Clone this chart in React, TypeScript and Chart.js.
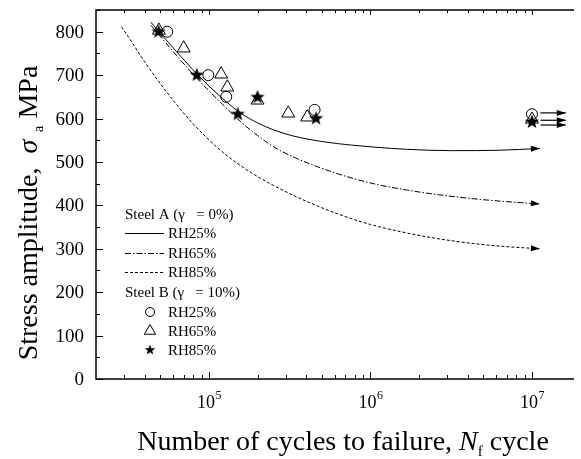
import React, { useEffect, useRef } from 'react';
import { Chart, registerables } from 'chart.js';
Chart.register(...registerables);

// Steel A fitted curves (cycles, MPa)
const rh25CurveX = [43700, 50100, 63100, 79400, 100000, 126000, 158000, 200000, 251000, 331000, 525000, 1070000, 1700000, 3160000, 6310000, 11200000];
const rh25CurveY = [822, 796, 754, 713, 675, 641, 612, 590, 574, 560, 546, 534, 529, 526, 527, 531];
const rh65CurveX = [43700, 50100, 63100, 79400, 100000, 126000, 158000, 200000, 251000, 331000, 447000, 676000, 1070000, 1700000, 2690000, 5010000, 11200000];
const rh65CurveY = [815, 789, 745, 703, 664, 627, 592, 561, 535, 512, 492, 469, 449, 435, 424, 413, 403];
const rh85CurveX = [28800, 32400, 39800, 50100, 63100, 79400, 100000, 126000, 178000, 263000, 398000, 676000, 1000000, 1700000, 2750000, 4370000, 6310000, 11200000];
const rh85CurveY = [811, 783, 732, 680, 632, 589, 551, 518, 478, 442, 410, 376, 356, 336, 322, 312, 306, 300];

// Steel B test points
const bRh25X = [55200, 99100, 128000, 451000, 10000000];
const bRh25Y = [800, 700, 650, 620, 610];
const bRh65X = [49000, 69800, 119000, 130000, 200000, 310000, 406000, 10000000];
const bRh65Y = [803, 762, 702, 672, 642, 612, 603, 598];
const bRh85X = [48800, 84100, 151000, 200000, 461000, 10000000];
const bRh85Y = [800, 700, 610, 649, 600, 592];

// run-out arrows
const runoutX = [11300000, 16200000];
const runoutY = [613, 596, 585];

const yTicks = [0, 100, 200, 300, 400, 500, 600, 700, 800];
const xMajorExp = [5, 6, 7];

const FONT = '"Liberation Serif", "Times New Roman", serif';

const pts = (xs: number[], ys: number[]) => xs.map((x, i) => ({ x, y: ys[i] }));

function makeStar(size: number, outer: number, inner: number) {
  const c = document.createElement('canvas');
  c.width = size; c.height = size;
  const g = c.getContext('2d')!;
  g.fillStyle = '#000';
  g.beginPath();
  for (let i = 0; i < 10; i++) {
    const r = i % 2 === 0 ? outer : inner;
    const a = -Math.PI / 2 + (i * Math.PI) / 5;
    const px = size / 2 + r * Math.cos(a);
    const py = size / 2 + r * Math.sin(a);
    if (i === 0) g.moveTo(px, py); else g.lineTo(px, py);
  }
  g.closePath();
  g.fill();
  return c;
}

type Part = { t: string; f: string; dy?: number };
function drawParts(ctx: CanvasRenderingContext2D, parts: Part[], cx: number, y: number) {
  let total = 0;
  parts.forEach(p => { ctx.font = p.f; total += ctx.measureText(p.t).width; });
  let x = cx - total / 2;
  ctx.textAlign = 'left';
  ctx.textBaseline = 'alphabetic';
  parts.forEach(p => {
    ctx.font = p.f;
    ctx.fillText(p.t, x, y + (p.dy || 0));
    x += ctx.measureText(p.t).width;
  });
}

function arrowHead(ctx: CanvasRenderingContext2D, x1: number, y1: number, x2: number, y2: number) {
  const a = Math.atan2(y2 - y1, x2 - x1);
  const L = 9, W = 3;
  ctx.save();
  ctx.fillStyle = '#000';
  ctx.beginPath();
  ctx.moveTo(x2, y2);
  ctx.lineTo(x2 - L * Math.cos(a) + W * Math.sin(a), y2 - L * Math.sin(a) - W * Math.cos(a));
  ctx.lineTo(x2 - L * Math.cos(a) - W * Math.sin(a), y2 - L * Math.sin(a) + W * Math.cos(a));
  ctx.closePath();
  ctx.fill();
  ctx.restore();
}

export default function App() {
  const ref = useRef<HTMLCanvasElement>(null);
  useEffect(() => {
    const canvas = ref.current!;
    const star = makeStar(16, 7.5, 3.1);
    const star2 = makeStar(12, 5.5, 2.3);

    const lineDS = (label: string, xs: number[], ys: number[], dash: number[]) => ({
      label, data: pts(xs, ys), borderColor: '#000', borderWidth: 1, borderDash: dash,
      pointRadius: 0, cubicInterpolationMode: 'monotone' as const, showLine: true, fill: false, order: 3,
      arrow: true,
    });

    const datasets: any[] = [
      { label: 'B RH85%', data: pts(bRh85X, bRh85Y), showLine: false, pointStyle: star, pointRadius: 8, order: 0 },
      { label: 'B RH25%', data: pts(bRh25X, bRh25Y), showLine: false, pointStyle: 'circle', pointRadius: 5.5, borderColor: '#000', backgroundColor: 'rgba(255,255,255,0)', pointBorderWidth: 1, order: 1 },
      { label: 'B RH65%', data: pts(bRh65X, bRh65Y), showLine: false, pointStyle: 'triangle', pointRadius: 7.5, borderColor: '#000', backgroundColor: 'rgba(255,255,255,0)', pointBorderWidth: 1, order: 2 },
      lineDS('A RH25%', rh25CurveX, rh25CurveY, []),
      lineDS('A RH65%', rh65CurveX, rh65CurveY, [6, 2, 1.5, 2]),
      lineDS('A RH85%', rh85CurveX, rh85CurveY, [3, 2]),
      ...runoutY.map(v => ({ label: 'runout', data: pts(runoutX, [v, v]), borderColor: '#000', borderWidth: 1.2, pointRadius: 0, showLine: true, order: 3, arrow: true })),
    ];

    const deco = {
      id: 'deco',
      afterDatasetsDraw(chart: any) {
        const ctx = chart.ctx as CanvasRenderingContext2D;
        chart.data.datasets.forEach((ds: any, i: number) => {
          if (!ds.arrow) return;
          const meta = chart.getDatasetMeta(i);
          const n = meta.data.length;
          const p1 = meta.data[n - 2], p2 = meta.data[n - 1];
          arrowHead(ctx, p1.x, p1.y, p2.x, p2.y);
        });
      },
      afterDraw(chart: any) {
        const ctx = chart.ctx as CanvasRenderingContext2D;
        const a = chart.chartArea;
        const xs = chart.scales.x, ys = chart.scales.y;
        ctx.save();
        ctx.strokeStyle = '#000';
        // frame
        ctx.lineWidth = 1.5;
        ctx.beginPath();
        ctx.moveTo(a.right + 2, a.top); ctx.lineTo(a.left, a.top); ctx.lineTo(a.left, a.bottom); ctx.lineTo(a.right + 2, a.bottom);
        ctx.stroke();
        // y ticks
        ctx.lineWidth = 1;
        ctx.beginPath();
        for (let v = 0; v <= 850; v += 50) {
          const py = Math.round(ys.getPixelForValue(v)) + 0.5;
          const len = v % 100 === 0 ? 7 : 4;
          ctx.moveTo(a.left, py); ctx.lineTo(a.left + len, py);
        }
        // x ticks
        for (let e = 4; e <= 7; e++) {
          for (let m = 1; m <= 9; m++) {
            const val = m * Math.pow(10, e);
            if (val <= xs.min || val > xs.max) continue;
            const px = Math.round(xs.getPixelForValue(val)) + 0.5;
            const len = m === 1 ? 7 : 4;
            ctx.moveTo(px, a.bottom); ctx.lineTo(px, a.bottom - len);
            const tl = m === 1 ? 5 : 3;
            ctx.moveTo(px, a.top); ctx.lineTo(px, a.top + tl);
          }
        }
        ctx.stroke();
        ctx.fillStyle = '#000';
        // y tick labels
        ctx.font = `19px ${FONT}`;
        ctx.textAlign = 'right';
        ctx.textBaseline = 'middle';
        yTicks.forEach(v => ctx.fillText(String(v), a.left - 12, ys.getPixelForValue(v) + 1));
        // x tick labels
        xMajorExp.forEach(e => {
          const px = xs.getPixelForValue(Math.pow(10, e));
          ctx.font = `18px ${FONT}`;
          const w1 = ctx.measureText('10').width;
          ctx.font = `12px ${FONT}`;
          const w2 = ctx.measureText(String(e)).width;
          const x0 = px - (w1 + w2) / 2;
          ctx.textAlign = 'left';
          ctx.textBaseline = 'alphabetic';
          ctx.font = `18px ${FONT}`;
          ctx.fillText('10', x0, 408);
          ctx.font = `12px ${FONT}`;
          ctx.fillText(String(e), x0 + w1 + 0.5, 399);
        });
        // x title
        drawParts(ctx, [
          { t: 'Number of cycles to failure, ', f: `28px ${FONT}` },
          { t: 'N', f: `italic 28px ${FONT}` },
          { t: 'f', f: `15px ${FONT}`, dy: 6 },
          { t: ' cycle', f: `28px ${FONT}` },
        ], 343, 450);
        // y title
        ctx.save();
        ctx.translate(37, 213);
        ctx.rotate(-Math.PI / 2);
        drawParts(ctx, [
          { t: 'Stress amplitude,  ', f: `28px ${FONT}` },
          { t: 'σ', f: `italic 28px ${FONT}` },
          { t: '  ', f: `15px ${FONT}` },
          { t: 'a', f: `15px ${FONT}`, dy: 6 },
          { t: ' MPa', f: `28px ${FONT}` },
        ], 0, 0);
        ctx.restore();
        // legend
        ctx.font = `15px ${FONT}`;
        ctx.textAlign = 'left';
        ctx.textBaseline = 'middle';
        const lx = 125, tx = 168;
        ctx.fillText('Steel A (γ   = 0%)', lx, 215);
        const rows = [233, 253, 272];
        const dashes = [[], [6, 2, 1.5, 2], [3, 2]];
        const names = ['RH25%', 'RH65%', 'RH85%'];
        rows.forEach((ry, i) => {
          ctx.setLineDash(dashes[i]);
          ctx.lineWidth = 1;
          ctx.beginPath();
          ctx.moveTo(lx, ry + 0.5); ctx.lineTo(lx + 39, ry + 0.5);
          ctx.stroke();
          ctx.setLineDash([]);
          ctx.fillText(names[i], tx, ry + 1);
        });
        ctx.fillText('Steel B (γ   = 10%)', lx, 293);
        const srows = [312, 331, 350];
        srows.forEach((ry, i) => ctx.fillText(names[i], tx, ry + 1));
        const sx = 150;
        ctx.lineWidth = 1;
        ctx.beginPath(); ctx.arc(sx, srows[0], 4.5, 0, Math.PI * 2); ctx.stroke();
        const r = 6.5;
        ctx.beginPath();
        ctx.moveTo(sx, srows[1] - r);
        ctx.lineTo(sx + r * 0.866, srows[1] + r / 2);
        ctx.lineTo(sx - r * 0.866, srows[1] + r / 2);
        ctx.closePath(); ctx.stroke();
        ctx.drawImage(star2, sx - 6, srows[2] - 6);
        ctx.restore();
      },
    };

    const chart = new Chart(canvas, {
      type: 'line',
      data: { datasets },
      options: {
        responsive: false,
        animation: false,
        events: [],
        layout: { padding: { top: 10, left: 0, right: 0, bottom: 0 } },
        plugins: { legend: { display: false }, tooltip: { enabled: false } },
        scales: {
          x: {
            type: 'logarithmic', min: 20000, max: 17700000,
            grid: { display: false }, border: { display: false }, ticks: { display: false },
            afterFit: (s: any) => { s.height = 80; },
          },
          y: {
            type: 'linear', min: 0, max: 850,
            grid: { display: false }, border: { display: false }, ticks: { display: false },
            afterFit: (s: any) => { s.width = 96; },
          },
        },
      },
      plugins: [deco],
    } as any);
    return () => chart.destroy();
  }, []);
  return (
    <div style={{ position: 'absolute', left: 0, top: 0, width: 581, height: 459, background: '#fff' }}>
      <canvas ref={ref} width={581} height={459} style={{ display: 'block', width: 581, height: 459 }} />
    </div>
  );
}
